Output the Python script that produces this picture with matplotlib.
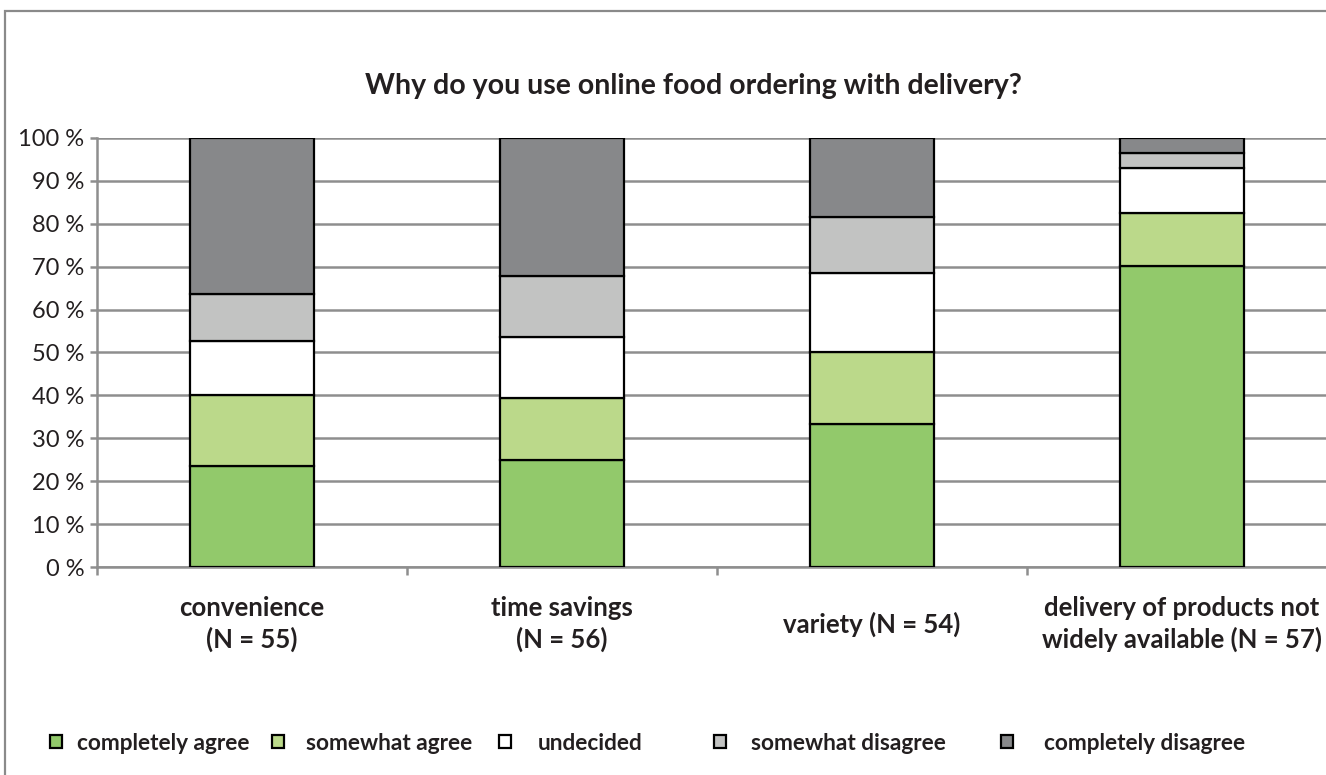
import matplotlib
matplotlib.use("Agg")
import matplotlib.pyplot as plt
from matplotlib.patches import Patch, Rectangle
from matplotlib.ticker import FixedLocator
import numpy as np

# Survey answers, share of respondents (%) per reason
categories = [
    "convenience\n(N = 55)",
    "time savings\n(N = 56)",
    "variety (N = 54)",
    "delivery of products not\nwidely available (N = 57)",
]
series_names = [
    "completely agree",
    "somewhat agree",
    "undecided",
    "somewhat disagree",
    "completely disagree",
]
completely_agree = [23.6, 25.0, 33.3, 70.2]
somewhat_agree = [16.4, 14.3, 16.7, 12.3]
undecided = [12.7, 14.3, 18.5, 10.5]
somewhat_disagree = [10.9, 14.3, 13.0, 3.5]
completely_disagree = [36.4, 32.1, 18.5, 3.5]
y_ticks = [0, 10, 20, 30, 40, 50, 60, 70, 80, 90, 100]
y_tick_labels = [f"{v} %" for v in y_ticks]
title = "Why do you use online food ordering with delivery?"

series_values = [completely_agree, somewhat_agree, undecided,
                 somewhat_disagree, completely_disagree]
colors = ["#92C96B", "#BBD98A", "#FFFFFF", "#C2C3C2", "#87888A"]

W, H = 1326, 775
FONT = "Lato"
TXT = "#231F20"
GRID = "#8E8E8E"

fig = plt.figure(figsize=(W / 100, H / 100), dpi=100)
fig.patch.set_facecolor("white")

# chart frame (runs past the right and bottom edges)
fig.add_artist(Rectangle((5 / W, -0.2), 1.3, (1 - 11 / H) + 0.2,
                         transform=fig.transFigure, fill=False,
                         edgecolor="#8A8A8A", linewidth=1.6))

ax = fig.add_axes([97 / W, 1 - 567 / H, 1240 / W, 429 / H])
x = np.arange(len(categories))
bottom = np.zeros(len(categories))
for name, vals, col in zip(series_names, series_values, colors):
    ax.bar(x, vals, width=0.4, bottom=bottom, color=col,
           edgecolor="black", linewidth=1.6, label=name, zorder=3)
    bottom += np.array(vals)

ax.set_xlim(-0.5, 3.5)
ax.set_ylim(0, 100)

ax.set_yticks(y_ticks)
ax.set_yticklabels(y_tick_labels, fontfamily=FONT, fontsize=17, color=TXT)
ax.tick_params(axis="y", length=5, width=1.8, color=GRID, pad=4)
ax.yaxis.grid(True, color=GRID, linewidth=1.8, zorder=0)
ax.set_axisbelow(True)

ax.set_xticks(x)
ax.set_xticklabels(categories, fontfamily=FONT, fontsize=18.5,
                   fontweight="bold", color=TXT, va="center",
                   multialignment="center", linespacing=1.3)
ax.tick_params(axis="x", which="major", length=0, pad=41)
ax.xaxis.set_minor_locator(FixedLocator([-0.5, 0.5, 1.5, 2.5]))
ax.tick_params(axis="x", which="minor", length=6, width=1.8, color=GRID)

for side in ["top", "right"]:
    ax.spines[side].set_visible(False)
for side in ["left", "bottom"]:
    ax.spines[side].set_color(GRID)
    ax.spines[side].set_linewidth(1.8)
ax.spines["left"].set_bounds(0, 100)

fig.text(693 / W, 1 - 86 / H, title, ha="center", va="center",
         fontfamily=FONT, fontsize=20.5, fontweight="bold", color=TXT)

# legend entries spread along the bottom of the frame
legend_x = [50, 272, 499, 714, 1001]
legend_pad = [0.66, 0.97, 1.19, 1.1, 1.37]
for name, col, lx, pad in zip(series_names, colors, legend_x, legend_pad):
    fig.legend(handles=[Patch(facecolor=col, edgecolor="black", linewidth=1.6)],
               labels=[name], loc="center left",
               bbox_to_anchor=(lx / W, 1 - 743 / H), frameon=False,
               handlelength=0.53, handleheight=0.53, handletextpad=pad,
               borderpad=0, borderaxespad=0,
               prop={"family": FONT, "size": 16.3, "weight": "bold"},
               labelcolor=TXT)

fig.savefig("out.png", dpi=100, facecolor="white")
